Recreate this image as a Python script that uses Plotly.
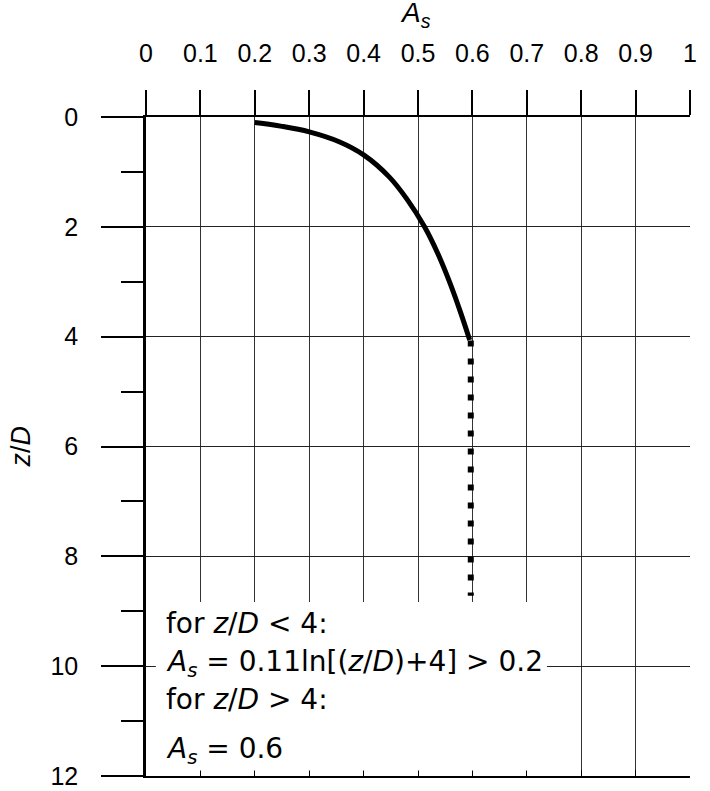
import plotly.graph_objects as go

# ---- data ----
curve_x = [0.200, 0.250, 0.300, 0.355, 0.400, 0.447, 0.480, 0.512, 0.537, 0.559, 0.579, 0.595]
curve_z = [0.10, 0.17, 0.27, 0.45, 0.69, 1.09, 1.50, 2.00, 2.50, 3.03, 3.58, 4.06]

dotted_x = [0.597, 0.597]
dotted_z = [4.07, 8.72]

x_tickvals = [0, 0.1, 0.2, 0.3, 0.4, 0.5, 0.6, 0.7, 0.8, 0.9, 1.0]
x_ticktext = ["0", "0.1", "0.2", "0.3", "0.4", "0.5", "0.6", "0.7", "0.8", "0.9", "1"]
y_tickvals = [0, 2, 4, 6, 8, 10, 12]
y_ticktext = ["0", "2", "4", "6", "8", "10", "12"]
y_minorvals = [1, 3, 5, 7, 9, 11]

FONT = "Liberation Sans, Arial, Helvetica, sans-serif"
NOTE_FONT = "DejaVu Sans, Liberation Sans, Arial, sans-serif"

fig = go.Figure()
fig.add_trace(go.Scatter(x=curve_x, y=curve_z, mode="lines",
                         line=dict(color="black", width=5, shape="spline"),
                         showlegend=False, hoverinfo="skip"))
fig.add_trace(go.Scatter(x=dotted_x, y=dotted_z, mode="lines",
                         line=dict(color="black", width=6, dash="6px,12px"),
                         showlegend=False, hoverinfo="skip"))
# invisible trace to activate the bottom frame axis
fig.add_trace(go.Scatter(x=[x_tickvals[0], x_tickvals[-1]], y=[y_tickvals[-1], y_tickvals[-1]],
                         xaxis="x2", mode="lines", line=dict(width=0), opacity=0,
                         showlegend=False, hoverinfo="skip"))

fig.update_layout(
    width=710, height=791,
    margin=dict(l=146, r=20, t=117, b=15, autoexpand=False),
    paper_bgcolor="white", plot_bgcolor="white",
    font=dict(family=FONT, color="black"),
    showlegend=False,
    xaxis=dict(side="top", range=[0, 1], tickmode="array", tickvals=x_tickvals, ticktext=x_ticktext,
               ticks="outside", ticklen=25, tickwidth=1.5, tickcolor="black",
               showgrid=True, gridcolor="#333333", gridwidth=1.3,
               showline=True, linecolor="black", linewidth=2, zeroline=False, automargin=False,
               tickfont=dict(size=25, color="black", family=FONT), ticklabelstandoff=18),
    xaxis2=dict(overlaying="x", side="bottom", anchor="y", range=[0, 1],
                tickmode="array", tickvals=x_tickvals, ticks="inside", ticklen=6, tickwidth=1,
                tickcolor="black", showticklabels=False, showgrid=False, automargin=False,
                showline=True, linecolor="black", linewidth=1.5, zeroline=False),
    yaxis=dict(range=[12, 0], tickmode="array", tickvals=y_tickvals, ticktext=y_ticktext,
               ticks="outside", ticklen=42, tickwidth=2, tickcolor="black",
               minor=dict(tickmode="array", tickvals=y_minorvals, ticks="outside", ticklen=22,
                          tickwidth=2, tickcolor="black", showgrid=False),
               showgrid=True, gridcolor="#222222", gridwidth=1.3,
               showline=True, linecolor="black", linewidth=2.5, automargin=False,
               zeroline=True, zerolinecolor="black", zerolinewidth=2,
               tickfont=dict(size=25, color="black", family=FONT), ticklabelstandoff=18),
)

# white box behind the formula text
fig.add_shape(type="rect", xref="x", yref="y", x0=0.018, x1=0.737, y0=8.83, y1=11.9,
              fillcolor="white", line=dict(width=0), layer="above")

ann_font = dict(size=28, color="black", family=NOTE_FONT)
lines = [
    ("for <i>z</i>/<i>D</i> &lt; 4:", 9.22),
    ("<i>A</i><sub><i>s</i></sub> = 0.11ln[(<i>z</i>/<i>D</i>)+4] &gt; 0.2", 9.95),
    ("for <i>z</i>/<i>D</i> &gt; 4:", 10.6),
    ("<i>A</i><sub><i>s</i></sub> = 0.6", 11.53),
]
for txt, yy in lines:
    fig.add_annotation(text=txt, xref="x", yref="y", x=0.033, y=yy,
                       xanchor="left", yanchor="middle", showarrow=False, font=ann_font)

# axis titles
fig.add_annotation(text="<i>A</i><sub><i>s</i></sub>", xref="paper", yref="paper",
                   x=0.495, y=1.155, xanchor="center", yanchor="middle", showarrow=False,
                   font=dict(size=28, color="black", family=FONT))
fig.add_annotation(text="<i>z</i>/<i>D</i>", xref="paper", yref="paper",
                   x=-0.2316, y=0.5, xanchor="center", yanchor="middle", textangle=-90,
                   showarrow=False, font=dict(size=27, color="black", family=FONT))

# remove the default 8 px page margin so the figure sits at the window's corner
fig.write_html("out.html", config={"displayModeBar": False},
               post_script="document.body.style.margin='0px';document.body.style.overflow='hidden';")
